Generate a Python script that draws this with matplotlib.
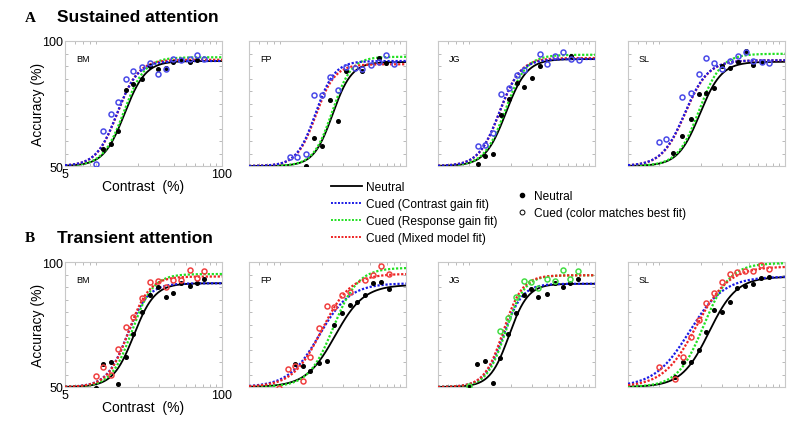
import numpy as np
import matplotlib
matplotlib.use('Agg')
import matplotlib.pyplot as plt
from matplotlib.lines import Line2D

plt.rcParams['font.family'] = ['Liberation Sans', 'DejaVu Sans']

observers = ['BM', 'FP', 'JG', 'SL']
rows = ['Sustained attention', 'Transient attention']
row_tags = ['A', 'B']

# ---- measured points: (contrast %, accuracy %) ----
# sustained, neutral (black) / cued (blue = contrast gain best fit)
sus_neu_c = [[10.4, 12.1, 13.8, 15.9, 18.3, 21.9, 25.4, 29.5, 34.1, 39.2, 45.9, 53.8, 61.7],
             [14.7, 17.2, 20.0, 23.4, 27.3, 32.0, 43.6, 59.2, 68.8],
             [10.7, 12.3, 14.4, 16.6, 19.2, 22.4, 26.0, 30.3, 34.8, 63.5],
             [11.9, 14.1, 16.5, 19.2, 22.1, 25.8, 30.0, 35.0, 40.8, 47.2, 54.8, 64.2]]
sus_neu_y = [[56.7, 58.7, 64.1, 80.6, 82.9, 84.7, 89.9, 89.0, 89.2, 91.7, 92.3, 91.7, 92.5],
             [50.0, 61.3, 58.0, 76.3, 68.0, 88.0, 88.0, 93.3, 91.3],
             [50.7, 54.2, 55.0, 70.4, 77.0, 83.2, 81.6, 85.3, 90.1, 94.1],
             [55.3, 62.0, 68.7, 78.7, 79.3, 81.3, 90.0, 89.3, 91.7, 96.0, 90.4, 91.7]]
sus_cue_c = [[9.0, 10.4, 12.1, 13.8, 15.9, 18.3, 21.9, 25.4, 29.5, 34.1, 39.2, 45.9, 53.8, 61.7, 71.5],
             [10.9, 12.4, 14.7, 17.2, 20.0, 23.4, 27.3, 32.0, 37.6, 43.6, 50.9, 59.2, 68.8, 80.0],
             [10.7, 12.3, 14.4, 16.6, 19.2, 22.4, 26.0, 34.8, 40.2, 47.0, 54.0, 63.5, 74.0],
             [9.0, 10.4, 14.1, 16.5, 19.2, 22.1, 25.8, 30.0, 35.0, 40.8, 47.2, 54.8, 64.2, 74.2]]
sus_cue_y = [[50.9, 64.1, 70.8, 75.5, 84.9, 87.9, 89.6, 91.3, 87.0, 88.7, 93.0, 92.3, 92.7, 94.6, 93.0],
             [53.6, 53.6, 54.7, 78.4, 78.3, 85.6, 80.3, 89.7, 89.3, 88.9, 90.3, 91.6, 94.3, 90.7],
             [57.9, 58.3, 63.2, 79.0, 81.3, 86.6, 88.4, 95.0, 90.8, 94.1, 95.8, 92.8, 92.4],
             [59.6, 60.7, 77.6, 79.3, 86.7, 93.3, 91.3, 88.7, 92.0, 94.0, 95.7, 92.0, 91.6, 91.3]]
sus_cue_col = ['blue', 'blue', 'blue', 'blue']

# transient
tra_neu_c = [[9.0, 10.4, 12.1, 13.8, 15.9, 18.3, 21.9, 25.4, 29.5, 34.1, 39.2, 45.9, 53.8, 61.7, 71.5],
             [12.1, 13.9, 16.1, 18.9, 22.0, 25.5, 29.6, 34.2, 39.6, 46.0, 53.2, 61.8, 72.5],
             [9.0, 10.6, 12.2, 14.2, 16.4, 18.9, 22.0, 25.6, 29.6, 34.0, 40.0, 46.4, 53.8, 62.2, 72.2],
             [12.3, 14.4, 16.6, 19.2, 22.0, 25.8, 29.9, 34.8, 40.2, 46.5, 54.0, 62.8, 73.0]]
tra_neu_y = [[49.6, 59.4, 60.1, 51.3, 62.1, 71.4, 80.2, 86.9, 89.9, 86.2, 87.5, 91.5, 90.6, 91.8, 93.3],
             [59.1, 58.4, 56.4, 59.8, 60.5, 74.9, 79.6, 82.8, 84.2, 86.9, 91.7, 92.2, 89.3],
             [50.0, 59.1, 60.4, 51.5, 61.7, 71.1, 79.7, 86.8, 89.3, 86.0, 87.3, 91.5, 90.1, 91.5, 93.1],
             [54.0, 60.1, 60.1, 64.7, 72.1, 80.8, 80.2, 84.2, 89.8, 90.6, 91.1, 93.8, 94.2]]
tra_cue_c = [[9.0, 10.4, 12.1, 13.8, 15.9, 18.3, 21.9, 25.4, 29.5, 34.1, 39.2, 45.9, 53.8, 61.7, 71.5],
             [8.9, 10.5, 12.1, 13.9, 16.1, 18.9, 22.0, 25.5, 29.6, 34.2, 46.0, 53.2, 61.8, 72.5],
             [9.0, 16.4, 18.9, 22.0, 25.6, 29.6, 34.0, 40.0, 46.4, 53.8, 62.2, 72.2],
             [9.1, 12.3, 14.4, 16.6, 19.2, 22.0, 25.8, 29.9, 34.8, 40.2, 46.5, 54.0, 62.8, 73.0]]
tra_cue_y = [[54.3, 58.0, 54.7, 65.4, 74.1, 78.1, 85.5, 92.2, 92.5, 90.2, 92.9, 92.9, 96.9, 93.6, 96.6],
             [49.7, 57.1, 58.4, 52.4, 62.2, 73.6, 82.3, 81.9, 86.9, 88.2, 93.0, 94.9, 98.4, 95.3],
             [50.4, 72.4, 77.5, 86.1, 92.4, 92.1, 89.7, 93.1, 92.4, 96.7, 93.1, 96.4],
             [58.0, 53.4, 62.1, 70.1, 76.8, 83.5, 87.5, 91.9, 95.2, 96.0, 96.3, 96.3, 98.9, 97.3]]
tra_cue_col = ['red', 'red', 'green', 'red']

# ---- fitted curves: c50 (%), slope n, upper asymptote (%) ----
fit_names = ['neutral', 'contrast', 'response', 'mixed']
sus_c50 = [[15.6, 13.5, 15.4, 13.6], [24.7, 17.8, 24.5, 17.9], [18.3, 16.1, 18.0, 16.2], [19.7, 14.8, 19.5, 14.9]]
sus_n = [[5.0, 5.0, 5.0, 5.0], [5.5, 5.5, 5.5, 5.5], [5.0, 5.0, 5.0, 5.0], [4.8, 4.5, 4.8, 4.5]]
sus_top = [[92.0, 92.0, 93.5, 92.5], [91.6, 92.0, 93.7, 90.7], [92.8, 92.8, 94.5, 93.2], [91.7, 92.3, 94.9, 92.3]]
tra_c50 = [[18.6, 16.4, 18.0, 16.8], [25.8, 19.1, 25.0, 20.0], [19.4, 17.4, 18.2, 17.4], [23.5, 16.1, 21.3, 18.3]]
tra_n = [[5.0, 5.0, 5.0, 5.0], [3.6, 3.4, 4.2, 3.6], [5.5, 5.5, 5.5, 5.5], [3.8, 3.0, 4.0, 3.2]]
tra_top = [[91.5, 91.5, 95.2, 94.2], [90.9, 91.5, 97.7, 95.3], [91.3, 91.3, 94.7, 94.7], [94.1, 94.2, 99.6, 98.2]]

fit_colors = {'neutral': 'black', 'contrast': '#1a1ae6', 'response': '#22e022', 'mixed': '#ee2222'}
pt_colors = {'blue': '#4a4ae8', 'red': '#f04040', 'green': '#44dd44'}


def nr(c, c50, n, top):
    return 50 + (top - 50) * c ** n / (c ** n + c50 ** n)


fig = plt.figure(figsize=(8, 4.27), dpi=100)
W, H = 800, 427
col_left = [65, 249, 438, 628]
row_top = [42, 263]
aw, ah = 157, 125

cgrid = np.logspace(np.log10(5), 2, 300)

for r in range(2):
    if r == 0:
        c50s, ns, tops = sus_c50, sus_n, sus_top
        nc, ny, cc, cy, ccol = sus_neu_c, sus_neu_y, sus_cue_c, sus_cue_y, sus_cue_col
    else:
        c50s, ns, tops = tra_c50, tra_n, tra_top
        nc, ny, cc, cy, ccol = tra_neu_c, tra_neu_y, tra_cue_c, tra_cue_y, tra_cue_col
    for j in range(4):
        ax = fig.add_axes([col_left[j] / W, 1 - (row_top[r] + ah) / H, aw / W, ah / H])
        # fits
        order = [0, 2, 3, 1] if r == 0 else [0, 1, 2, 3]
        for k in order:
            name = fit_names[k]
            yy = nr(cgrid, c50s[j][k], ns[j][k], tops[j][k])
            if name == 'neutral':
                ax.plot(cgrid, yy, color='black', lw=1.3, zorder=2)
            else:
                ax.plot(cgrid, yy, color=fit_colors[name], lw=1.6, ls=(0, (1, 0.8)), zorder=3)
        # data
        ax.plot(nc[j], ny[j], 'o', ms=2.6, color='black', zorder=5)
        ax.plot(cc[j], cy[j], 'o', ms=3.6, mfc='none', mec=pt_colors[ccol[j]], mew=1.1, zorder=6)

        ax.set_xscale('log')
        ax.set_xlim(5, 100)
        ax.set_ylim(50, 100)
        ax.set_yticks([50, 100])
        ax.set_yticks(np.arange(55, 100, 5), minor=True)
        ax.set_xticks([5, 100])
        ax.xaxis.set_minor_locator(matplotlib.ticker.LogLocator(subs=np.arange(2, 10)))
        ax.xaxis.set_minor_formatter(matplotlib.ticker.NullFormatter())
        ax.tick_params(which='both', direction='in', length=2, width=0.6, color='#b0b0b0',
                       top=True, right=True, labelsize=9, pad=1.5)
        for s in ax.spines.values():
            s.set_color('#c8c8c8')
            s.set_linewidth(0.8)
        ax.text(0.07, 0.84, observers[j], transform=ax.transAxes, fontsize=6.5)
        if j == 0:
            ax.set_xticklabels(['5', '100'])
            ax.set_yticklabels(['50', '100'])
            ax.set_xlabel('Contrast  (%)', fontsize=10, labelpad=-1)
            ax.set_ylabel('Accuracy (%)', fontsize=10, labelpad=-2)
        else:
            ax.set_xticklabels([])
            ax.set_yticklabels([])

    ty = row_top[r] - 24
    fig.text(25 / W, 1 - ty / H, row_tags[r], fontsize=11, fontweight='bold',
             family='Liberation Serif', va='center')
    fig.text(57 / W, 1 - ty / H, rows[r], fontsize=12.5, fontweight='bold', va='center')

line_handles = [Line2D([], [], color='black', lw=1.3),
                Line2D([], [], color=fit_colors['contrast'], lw=1.4, ls=(0, (1, 0.8))),
                Line2D([], [], color=fit_colors['response'], lw=1.4, ls=(0, (1, 0.8))),
                Line2D([], [], color=fit_colors['mixed'], lw=1.4, ls=(0, (1, 0.8)))]
line_labels = ['Neutral', 'Cued (Contrast gain fit)', 'Cued (Response gain fit)', 'Cued (Mixed model fit)']
fig.legend(line_handles, line_labels, loc='upper left', bbox_to_anchor=(331 / W, 1 - 182 / H),
           frameon=False, fontsize=8.6, handlelength=2.6, handletextpad=0.35,
           labelspacing=0.42, borderpad=0, borderaxespad=0)
mk_handles = [Line2D([], [], ls='none', marker='o', ms=3, color='black'),
              Line2D([], [], ls='none', marker='o', ms=3.5, mfc='none', mec='black', mew=0.7)]
fig.legend(mk_handles, ['Neutral', 'Cued (color matches best fit)'], loc='upper left',
           bbox_to_anchor=(517 / W, 1 - 191 / H), frameon=False, fontsize=8.6,
           handlelength=0.8, handletextpad=0.6, labelspacing=0.42, borderpad=0, borderaxespad=0)

fig.savefig('out.png', dpi=100, facecolor='white')
